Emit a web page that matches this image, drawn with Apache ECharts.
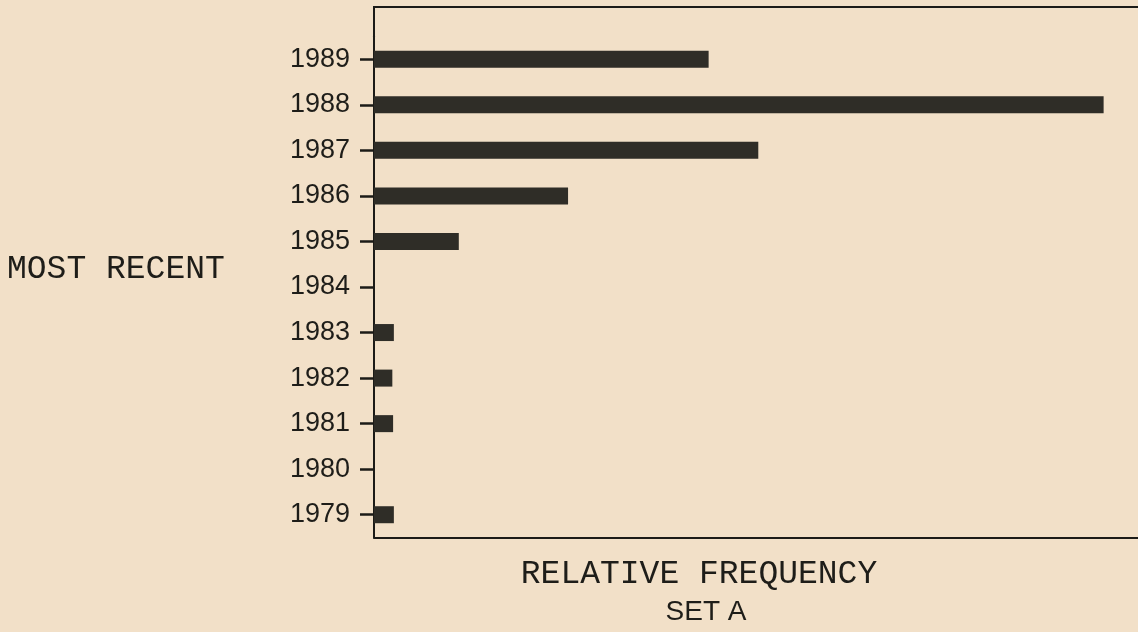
<!DOCTYPE html>
<html>
<head>
<meta charset="utf-8">
<script src="https://cdn.jsdelivr.net/npm/echarts@6/dist/echarts.min.js"></script>
<style>
html,body{margin:0;padding:0;background:#f2e0c8;}
#chart{width:1138px;height:632px;}
</style>
</head>
<body>
<div id="chart"></div>
<script>
const years = ['1979','1980','1981','1982','1983','1984','1985','1986','1987','1988','1989'];
const frequency = [2.6, 0, 2.5, 2.4, 2.6, 0, 11.1, 25.4, 50.3, 95.5, 43.8];
const yTitle = 'MOST RECENT';
const xTitle = 'RELATIVE FREQUENCY';
const setLabel = 'SET A';

const chart = echarts.init(document.getElementById('chart'));
const ink = '#1c1b17';
chart.setOption({
  backgroundColor: '#f2e0c8',
  animation: false,
  grid: { left: 374, right: 0, top: 36.5, bottom: 94.5, containLabel: false },
  xAxis: {
    type: 'value', min: 0, max: 100,
    axisLine: { show: true, lineStyle: { color: ink, width: 2 } },
    axisTick: { show: false }, axisLabel: { show: false }, splitLine: { show: false }
  },
  yAxis: {
    type: 'category', data: years, boundaryGap: true,
    axisLine: { show: true, lineStyle: { color: ink, width: 2 } },
    axisTick: { show: true, alignWithLabel: true, length: 14, lineStyle: { color: ink, width: 2.5 } },
    axisLabel: { margin: 24, fontFamily: 'Liberation Sans', fontSize: 27, color: '#1e1d19' }
  },
  series: [{
    type: 'bar', data: frequency, barWidth: 17,
    itemStyle: { color: '#2f2d27' }
  }],
  graphic: [
    { type: 'polyline', shape: { points: [[374, 38], [374, 7], [1138, 7]] },
      style: { stroke: ink, lineWidth: 2, fill: null } },
    { type: 'text', left: 7, top: 253,
      style: { text: yTitle, font: '33px "Liberation Mono"', fill: '#1e1d19' } },
    { type: 'text', x: 699, y: 574,
      style: { text: xTitle, font: '33px "Liberation Mono"', fill: '#1e1d19', textAlign: 'center', textVerticalAlign: 'middle' } },
    { type: 'text', x: 706, y: 612,
      style: { text: setLabel, font: '28px "Liberation Sans"', fill: '#1e1d19', textAlign: 'center', textVerticalAlign: 'middle' } }
  ]
});
</script>
</body>
</html>
